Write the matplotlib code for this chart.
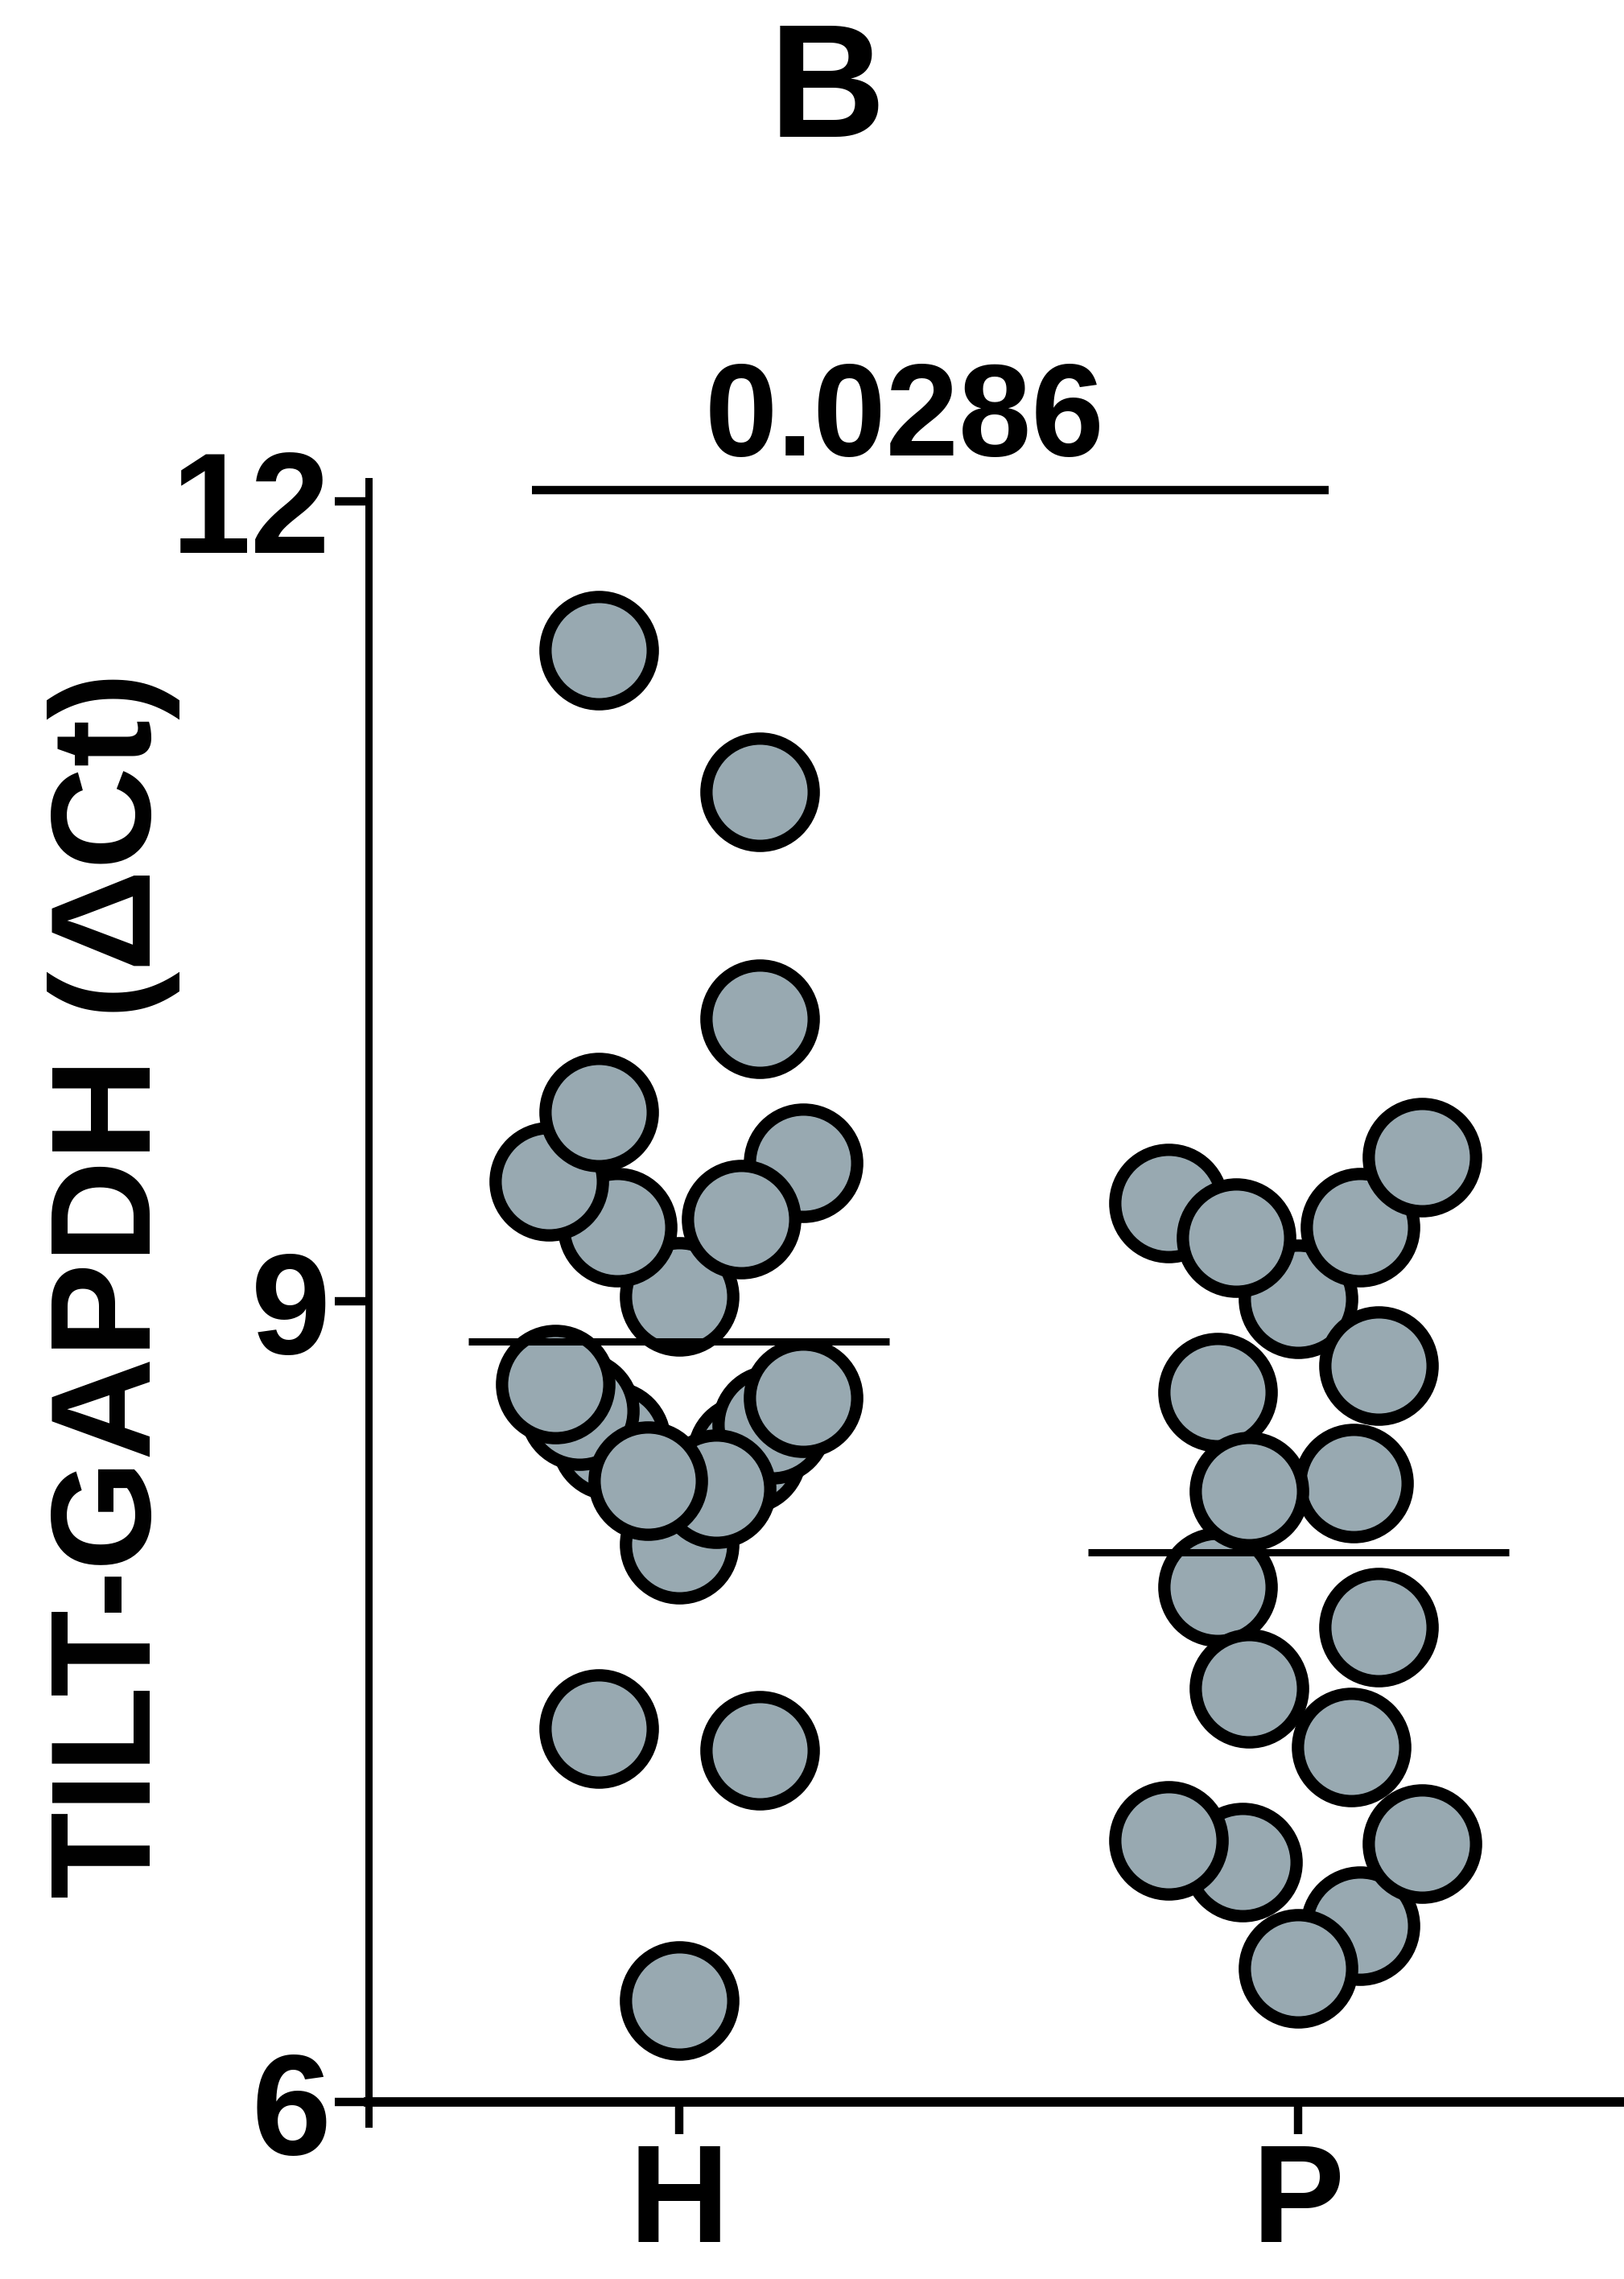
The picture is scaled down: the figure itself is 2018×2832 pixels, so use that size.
import numpy as np
import matplotlib.pyplot as plt

plt.rcParams['font.family'] = ['Liberation Sans', 'DejaVu Sans']
plt.rcParams['font.weight'] = 'bold'

# data
groups = ['H', 'P']
h_values = [9.02, 9.28, 9.45, 9.71, 9.52, 9.31, 11.44, 10.91, 10.06,
            8.09, 8.43, 8.54, 8.64, 8.30, 8.48, 8.59, 8.69, 8.33,
            7.40, 7.32, 6.38]
h_jitter = [0, -0.10, -0.21, -0.13, 0.20, 0.10, -0.13, 0.13, 0.13,
            0, 0.11, 0.15, 0.20, 0.06, -0.11, -0.16, -0.20, -0.05,
            -0.13, 0.13, 0]
p_values = [9.01, 9.37, 9.24, 9.28, 9.54, 8.76, 8.66, 8.32, 7.93,
            8.29, 7.78, 7.55, 7.33, 6.90, 6.98, 6.66, 6.97, 6.50]
p_jitter = [0, -0.21, -0.10, 0.10, 0.20, 0.13, -0.13, 0.09, -0.13,
            -0.08, 0.13, -0.08, 0.085, -0.09, -0.21, 0.10, 0.20, 0]
means = [8.85, 8.06]
p_text = '0.0286'
sig_span = [-0.237, 1.049]
sig_y = 12.04

fig = plt.figure(figsize=(20.18, 28.32), dpi=100)
ax = fig.add_axes([0.22696, 0.05417, 0.77304, 0.74936])

dot_color = '#98A9B1'
lw = 7.5
all_vals = [h_values, p_values]
all_jit = [h_jitter, p_jitter]
for i in range(len(groups)):
    xs = i + np.array(all_jit[i])
    ax.scatter(xs, all_vals[i], s=96 ** 2, c=dot_color, edgecolors='black',
               linewidths=11, zorder=3, clip_on=False)
    # mean line
    ax.plot([i - 0.34, i + 0.34], [means[i], means[i]], color='black',
            lw=6.5, solid_capstyle='butt', zorder=4)

# significance bar
ax.plot(sig_span, [sig_y, sig_y], color='black', lw=lw,
        solid_capstyle='butt', clip_on=False, zorder=4)
ax.text(0.365, 12.171, p_text, ha='center', va='baseline', fontsize=117,
        fontweight='bold', clip_on=False)

ax.set_xlim(-0.501, 1.526)
ax.set_ylim(5.8, 12.2)
ax.set_xticks(range(len(groups)))
ax.set_xticklabels(groups)
ax.set_yticks([6, 9, 12])

ax.spines['top'].set_visible(False)
ax.spines['right'].set_visible(False)
ax.spines['bottom'].set_position(('data', 6))
ax.spines['left'].set_bounds(5.92, 12.075)
ax.spines['left'].set_linewidth(6.5)
ax.spines['bottom'].set_linewidth(8.5)

ax.tick_params(axis='y', length=30, width=lw, pad=4, labelsize=128)
ax.tick_params(axis='x', length=29, width=lw, pad=6, labelsize=124)
for lab in ax.get_xticklabels() + ax.get_yticklabels():
    lab.set_fontweight('bold')

fig.text(142 / 2018, 0.436, 'TILT-GAPDH (ΔCt)', rotation=90, ha='center',
         va='center', fontsize=127, fontweight='bold')
fig.text(1028 / 2018, 0.94, 'B', ha='center', va='baseline', fontsize=144,
         fontweight='bold')

fig.savefig('out.png', dpi=100)
